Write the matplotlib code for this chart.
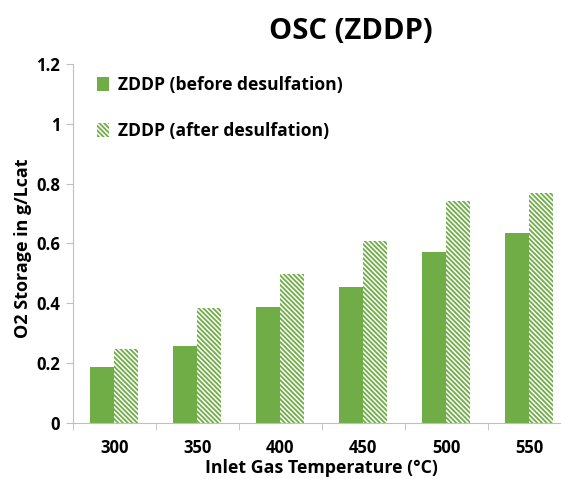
import numpy as np
import matplotlib
matplotlib.use('Agg')
import matplotlib.pyplot as plt

plt.rcParams['font.family'] = ['Open Sans', 'DejaVu Sans']
plt.rcParams['hatch.color'] = '#70AD47'
plt.rcParams['hatch.linewidth'] = 1.3

temps = ['300', '350', '400', '450', '500', '550']
before = [0.185, 0.256, 0.388, 0.454, 0.572, 0.633]
after = [0.247, 0.385, 0.498, 0.608, 0.740, 0.768]

green = '#70AD47'

fig = plt.figure(figsize=(5.61, 4.79), dpi=100)
ax = fig.add_axes([0.1296, 0.1175, 0.888, 0.749])

x = np.arange(len(temps))
w = 0.29
ax.bar(x - w / 2, before, w, color=green, edgecolor='none',
       label='ZDDP (before desulfation)')
ax.bar(x + w / 2, after, w, color='white', edgecolor=green, linewidth=0,
       hatch='\\\\\\\\\\\\\\', label='ZDDP (after desulfation)')

ax.set_xlim(-0.5, len(temps) - 0.5)
ax.set_ylim(0, 1.2)
ax.set_yticks([0, 0.2, 0.4, 0.6, 0.8, 1.0, 1.2])
ax.set_yticklabels(['0', '0.2', '0.4', '0.6', '0.8', '1', '1.2'])
ax.set_xticks(x)
ax.set_xticklabels(temps)
ax.set_xticks(np.arange(len(temps) + 1) - 0.5, minor=True)
ax.tick_params(axis='x', which='major', length=0, pad=12)
ax.tick_params(axis='x', which='minor', length=5, color='#BFBFBF')
ax.tick_params(axis='y', length=5, color='#BFBFBF', pad=4)
for lab in ax.get_xticklabels() + ax.get_yticklabels():
    lab.set_fontsize(12)
    lab.set_fontweight('bold')

for s in ['top', 'right']:
    ax.spines[s].set_visible(False)
ax.spines['left'].set_color('#BFBFBF')
ax.spines['bottom'].set_color('#BFBFBF')

ax.set_ylabel('O2 Storage in g/Lcat', fontsize=13, fontweight='bold')
ax.yaxis.set_label_coords(-0.082, 0.485)
ax.set_xlabel('Inlet Gas Temperature (°C)', fontsize=12.8, fontweight='bold')
ax.xaxis.set_label_coords(0.5, -0.1)

fig.text(0.625, 0.935, 'OSC (ZDDP)', fontsize=21, fontweight='bold', ha='center', va='center')

leg = ax.legend(loc='upper left', bbox_to_anchor=(0.018, 1.01), frameon=False,
                prop={'size': 12.6, 'weight': 'bold'}, handlelength=0.65,
                handleheight=0.8, labelspacing=1.6, handletextpad=0.55)

fig.savefig('out.png', dpi=100)
